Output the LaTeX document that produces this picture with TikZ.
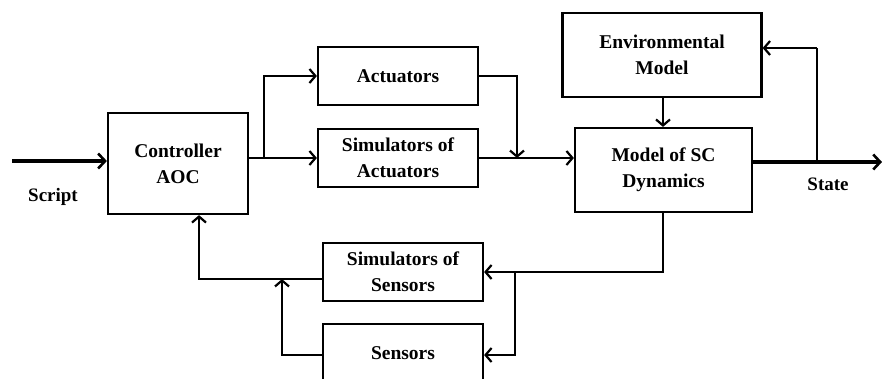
\documentclass[tikz,border=0pt]{standalone}
\usepackage{fontspec}
\setmainfont{Liberation Serif}
\usetikzlibrary{arrows.meta}
\begin{document}
\begin{tikzpicture}[x=1pt,y=-1pt,
  box/.style={draw,line width=2.2pt,minimum width=160pt,minimum height=58pt,inner sep=0pt,align=center,font=\fontsize{19.5}{26}\selectfont\bfseries},
  lbl/.style={font=\fontsize{19}{26}\selectfont\bfseries,inner sep=0pt},
  conn/.style={line width=2.2pt,-{Straight Barb[length=6pt,width=14pt,line width=2.2pt]}},
  plain/.style={line width=2.2pt},
  thickconn/.style={line width=3.4pt,-{Straight Barb[length=7pt,width=15pt,line width=2.6pt]}}]
\useasboundingbox (0,0) rectangle (882,378);
\clip (0,0) rectangle (882,378);
\node[box,minimum width=140pt,minimum height=101pt] (ctrl) at (178,163.5) {Controller\\AOC};
\node[box] (act) at (398,76) {Actuators};
\node[box] (simact) at (398,158) {Simulators of\\Actuators};
\node[box,minimum width=199pt,minimum height=84pt] (env) at (662,55) {Environmental\\Model};
\node[box,minimum width=177pt,minimum height=84pt] (model) at (663.5,170) {Model of SC\\Dynamics};
\node[box] (simsens) at (403,272) {Simulators of\\Sensors};
\node[box] (sens) at (403,353) {Sensors};
\node[lbl] (script) at (53,197) {Script};
\node[lbl] (state) at (828,184) {State};
\coordinate (in) at (12,161);
\coordinate (out) at (882,162);
\coordinate (b1) at (264,158);
\coordinate (b2) at (517,158);
\coordinate (b3) at (817,162);
\coordinate (b4) at (515,272);
\coordinate (b5) at (199,279);
\coordinate (b6) at (282,279);
% input
\draw[thickconn] (in) -- (in -| ctrl.west);
% controller to actuators
\draw[conn] (b1 -| ctrl.east) -- (b1 -| simact.west);
\draw[conn] (b1) |- (act.west);
\draw[conn] (act.east) -| (b2);
\draw[conn] (simact.east) -- (simact.east -| model.west);
% environment
\draw[conn] (env.south -| 663,0) -- (model.north -| 663,0);
% output
\draw[thickconn] (b3 -| model.east) -- (out);
\draw[plain] (b3) -- (b3 |- 0,48);
\draw[conn] (b3 |- 0,48) -- (env.east |- 0,48);
% feedback
\draw[conn] (model.south -| 663,0) |- (simsens.east);
\draw[conn] (b4) |- (sens.east |- 0,355);
\draw[conn] (simsens.west |- b5) -- (b5) -- (b5 |- ctrl.south);
\draw[conn] (sens.west |- 0,355) -| (b6);
\end{tikzpicture}
\end{document}
